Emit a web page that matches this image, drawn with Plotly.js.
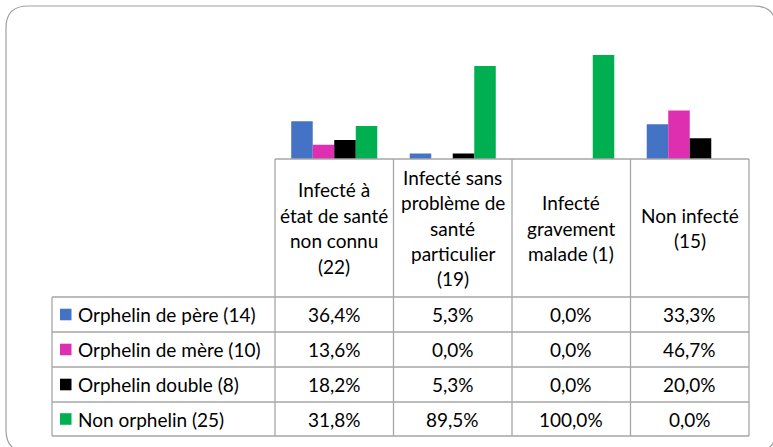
<!DOCTYPE html>
<html>
<head>
<meta charset="utf-8">
<script src="https://cdn.plot.ly/plotly-3.0.1.min.js"></script>
<style>
  body { margin: 0; background: #fff; }
  #chart { width: 773px; height: 447px; }
</style>
</head>
<body>
<div id="chart"></div>
<script>
var categories = [
  "Infecté à<br>état de santé<br>non connu<br>(22)",
  "Infecté sans<br>problème de<br>santé<br>particulier<br>(19)",
  "Infecté<br>gravement<br>malade (1)",
  "Non infecté<br>(15)"
];
var seriesNames = ["Orphelin de père (14)", "Orphelin de mère (10)", "Orphelin double (8)", "Non orphelin (25)"];
var pere = [36.4, 5.3, 0.0, 33.3];
var mere = [13.6, 0.0, 0.0, 46.7];
var double = [18.2, 5.3, 0.0, 20.0];
var nonOrphelin = [31.8, 89.5, 100.0, 0.0];
var colors = ["#4472C4", "#DE2FB0", "#000000", "#00B050"];

var W = 773, H = 447;
function px(x) { return x / W; }
function py(y) { return 1 - y / H; }

var font = "Lato, 'Liberation Sans', sans-serif";
var fontSize = 19;
var colX = [275, 393.5, 512, 630.5, 749];
var tableLeft = 52, tableTop = 159;
var rowY = [297, 332, 367, 402, 436];
var gridColor = "#a6a6a6";

var allSeries = [pere, mere, double, nonOrphelin];
var data = allSeries.map(function (vals, i) {
  return {
    type: "bar",
    x: categories,
    y: vals,
    name: seriesNames[i],
    marker: { color: colors[i], line: { width: 0 } },
    hoverinfo: "none"
  };
});

var shapes = [];
var annotations = [];
function line(x0, y0, x1, y1) {
  shapes.push({ type: "line", xref: "paper", yref: "paper",
    x0: px(x0), y0: py(y0), x1: px(x1), y1: py(y1),
    line: { color: gridColor, width: 1.3 } });
}

// table grid
line(colX[0], tableTop, colX[4], tableTop);
colX.forEach(function (x) { line(x, tableTop, x, rowY[4]); });
rowY.forEach(function (y) { line(tableLeft, y, colX[4], y); });
line(tableLeft, rowY[0], tableLeft, rowY[4]);

// header labels, one annotation per line
var lineStep = 25.4, headerCenter = 228;
categories.forEach(function (c, j) {
  var parts = c.split("<br>");
  var cx = (colX[j] + colX[j + 1]) / 2;
  parts.forEach(function (p, k) {
    var y = headerCenter + (k - (parts.length - 1) / 2) * lineStep;
    annotations.push({ xref: "paper", yref: "paper", x: px(cx), y: py(y),
      text: p, showarrow: false, xanchor: "center", yanchor: "middle",
      font: { family: font, size: fontSize, color: "#000" } });
  });
});

// rows: legend key + values
allSeries.forEach(function (vals, i) {
  var cy = (rowY[i] + rowY[i + 1]) / 2;
  shapes.push({ type: "rect", xref: "paper", yref: "paper",
    x0: px(60), x1: px(71.5), y0: py(cy - 5.8), y1: py(cy + 5.8),
    fillcolor: colors[i], line: { width: 0 } });
  annotations.push({ xref: "paper", yref: "paper", x: px(76), y: py(cy),
    text: seriesNames[i], showarrow: false, xanchor: "left", yanchor: "middle",
    font: { family: font, size: fontSize, color: "#000" } });
  vals.forEach(function (v, j) {
    var cx = (colX[j] + colX[j + 1]) / 2;
    annotations.push({ xref: "paper", yref: "paper", x: px(cx), y: py(cy),
      text: v.toFixed(1).replace(".", ",") + "%", showarrow: false,
      xanchor: "center", yanchor: "middle",
      font: { family: font, size: fontSize, color: "#000" } });
  });
});

// rounded outer frame
var fl = 6, ft = 6, fr = 776, fb = 452, r = 22;
shapes.push({ type: "path", xref: "paper", yref: "paper",
  path: "M " + px(fl + r) + "," + py(ft) +
    " L " + px(fr - r) + "," + py(ft) +
    " Q " + px(fr) + "," + py(ft) + " " + px(fr) + "," + py(ft + r) +
    " L " + px(fr) + "," + py(fb - r) +
    " Q " + px(fr) + "," + py(fb) + " " + px(fr - r) + "," + py(fb) +
    " L " + px(fl + r) + "," + py(fb) +
    " Q " + px(fl) + "," + py(fb) + " " + px(fl) + "," + py(fb - r) +
    " L " + px(fl) + "," + py(ft + r) +
    " Q " + px(fl) + "," + py(ft) + " " + px(fl + r) + "," + py(ft) + " Z",
  line: { color: "#a0a0a0", width: 1.2 } });

var layout = {
  width: W, height: H,
  margin: { l: 0, r: 0, t: 0, b: 0 },
  paper_bgcolor: "#fff", plot_bgcolor: "rgba(0,0,0,0)",
  showlegend: false,
  barmode: "group", bargap: 0.274, bargroupgap: 0,
  xaxis: { domain: [px(colX[0]), px(colX[4])], showticklabels: false,
    showgrid: false, zeroline: false, showline: false, ticks: "", fixedrange: true },
  yaxis: { domain: [py(tableTop), py(44.6)], range: [0, 110], showticklabels: false,
    showgrid: false, zeroline: false, showline: false, ticks: "", fixedrange: true },
  shapes: shapes,
  annotations: annotations
};

Plotly.newPlot("chart", data, layout, { displayModeBar: false, staticPlot: true });
</script>
</body>
</html>
